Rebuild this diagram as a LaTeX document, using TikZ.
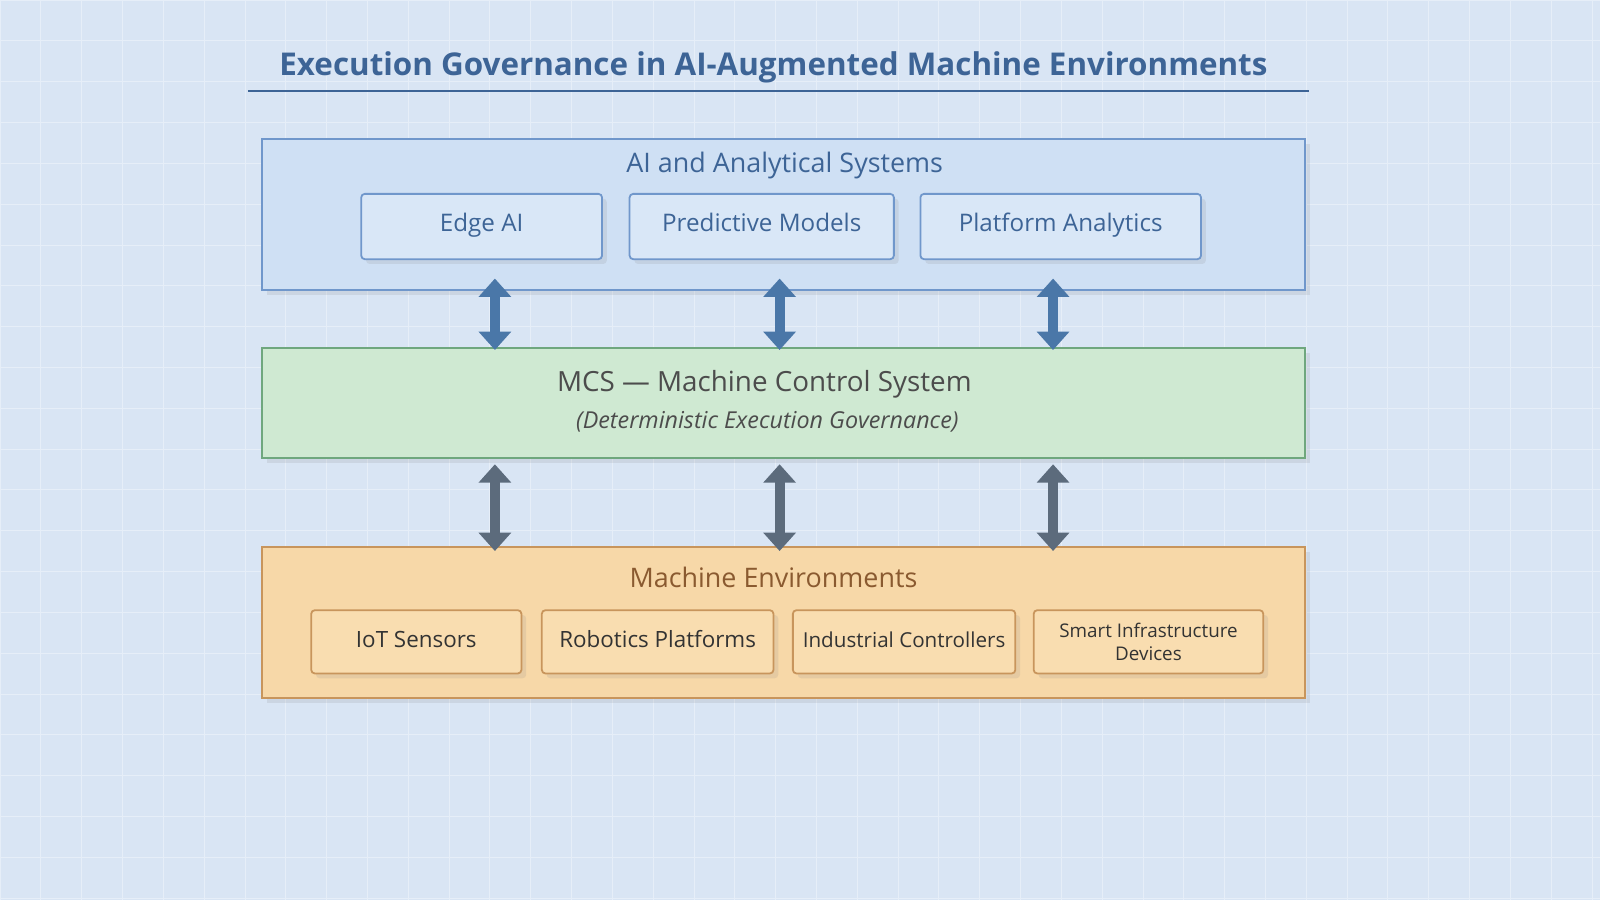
\documentclass[tikz,border=0pt]{standalone}
\usepackage{fontspec}
\setmainfont{Open Sans}
\usetikzlibrary{arrows.meta,positioning,shadows}
\definecolor{bgblue}{HTML}{D9E5F4}
\definecolor{titleblue}{HTML}{3D6496}
\definecolor{aifill}{HTML}{CFE0F4}
\definecolor{aiedge}{HTML}{7097CB}
\definecolor{aiinner}{HTML}{D9E7F7}
\definecolor{mcsfill}{HTML}{CFE9D2}
\definecolor{mcsedge}{HTML}{6FA77E}
\definecolor{envfill}{HTML}{F7D8A8}
\definecolor{envedge}{HTML}{C8955C}
\definecolor{envinner}{HTML}{F9DDB0}
\definecolor{envtext}{HTML}{8A5A30}
\definecolor{arrblue}{HTML}{4A77A8}
\definecolor{arrgray}{HTML}{5C6B7C}
\definecolor{gridline}{HTML}{E6EEF8}
\tikzset{
  layer/.style={draw=#1,line width=1pt,drop shadow={opacity=0.15}},
  inner box/.style={draw=#1,line width=1pt,rounded corners=2pt,drop shadow={opacity=0.15},align=center,text height=1.5ex,text depth=0.4ex},
  tier arrow/.style={{Triangle[length=0.36cm,width=0.62cm]}-{Triangle[length=0.36cm,width=0.62cm]},line width=5.5pt,draw=#1}
}
\begin{document}
\begin{tikzpicture}[x=0.02cm,y=-0.02cm]
        \useasboundingbox (0,0) rectangle (1568,882);
        \fill[bgblue] (0,0) rectangle (1568,882);
        \foreach \x in {0,40,...,1560}{
          \draw[gridline,line width=0.4pt] (\x,0) -- (\x,882);
        }
        \foreach \y in {0,40,...,880}{
          \draw[gridline,line width=0.4pt] (0,\y) -- (1568,\y);
        }

        % title
        \node[text=titleblue,font=\fontsize{17.5}{21}\selectfont\bfseries] (title) at (758,66) {Execution Governance in AI-Augmented Machine Environments};
        \draw[titleblue,line width=1pt] (243,89) -- (1283,89);

        % AI layer
        \path[layer=aiedge,fill=aifill] (257,136) rectangle (1279,284);
        \node[text=titleblue,font=\fontsize{15}{18}\selectfont] (ai) at (769,162) {AI and Analytical Systems};
        \tikzstyle{every node}=[font=\fontsize{13.5}{16}\selectfont,text=titleblue];
        \node[inner box=aiedge,fill=aiinner,minimum width=236*0.02cm,minimum height=64*0.02cm] (edge) at (472,222) {Edge AI};
        \node[inner box=aiedge,fill=aiinner,minimum width=259*0.02cm,minimum height=64*0.02cm] (pred) at (746.5,222) {Predictive Models};
        \node[inner box=aiedge,fill=aiinner,minimum width=275*0.02cm,minimum height=64*0.02cm] (plat) at (1039.5,222) {Platform Analytics};

        % MCS layer
        \path[layer=mcsedge,fill=mcsfill] (257,341) rectangle (1279,449);
        \node[text=black!70,font=\fontsize{15.5}{18}\selectfont] (mcs) at (749,377) {MCS — Machine Control System};
        \node[text=black!70,font=\fontsize{13}{16}\selectfont\itshape] (mcsgov) at (752,413) {(Deterministic Execution Governance)};

        % environment layer
        \path[layer=envedge,fill=envfill] (257,536) rectangle (1279,684);
        \node[text=envtext,font=\fontsize{15}{18}\selectfont] (env) at (758,566) {Machine Environments};
        \tikzstyle{every node}=[font=\fontsize{12.5}{14}\selectfont,text=black!80];
        \node[inner box=envedge,fill=envinner,minimum width=206*0.02cm,minimum height=62*0.02cm] (iot) at (408,629) {IoT Sensors};
        \node[inner box=envedge,fill=envinner,minimum width=227*0.02cm,minimum height=62*0.02cm] (robo) at (644.5,629) {Robotics Platforms};
        \node[inner box=envedge,fill=envinner,minimum width=218*0.02cm,minimum height=62*0.02cm,font=\fontsize{11.5}{14}\selectfont] (ind) at (886,629) {Industrial Controllers};
        \node[inner box=envedge,fill=envinner,minimum width=225*0.02cm,minimum height=62*0.02cm,font=\fontsize{10.5}{13}\selectfont,text height=,text depth=] (smart) at (1125.5,629) {Smart Infrastructure\\Devices};

        % arrows between layers
        \foreach \n/\x in {a/485,b/764,c/1032}{
          \coordinate (up\n) at (\x,273);
          \coordinate (mt\n) at (\x,343);
          \coordinate (mb\n) at (\x,455);
          \coordinate (lo\n) at (\x,540);
          \draw[tier arrow=arrblue] (up\n) -- (mt\n);
          \draw[tier arrow=arrgray] (mb\n) -- (lo\n);
        }
      \end{tikzpicture}
\end{document}
